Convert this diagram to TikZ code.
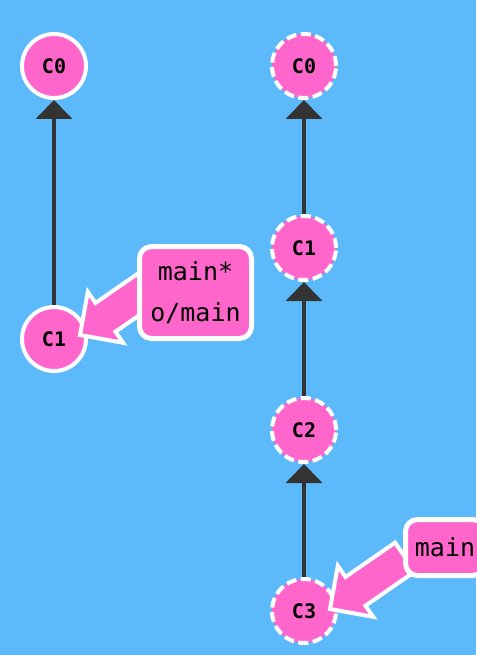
\documentclass[tikz,border=0pt]{standalone}
\usepackage{fontspec}
\setmonofont{DejaVu Sans Mono}
\usetikzlibrary{arrows.meta,calc}
\definecolor{bg}{RGB}{92,185,250}
\definecolor{pinkc}{RGB}{255,102,204}
\definecolor{edgec}{RGB}{51,51,51}
\tikzset{
 commit/.style={circle, fill=pinkc, draw=white, line width=4pt, minimum size=64pt, inner sep=0pt, font=\ttfamily\bfseries\fontsize{20}{20}\selectfont},
 ghost/.style={commit, dash pattern=on 10pt off 4.5pt},
 parentedge/.style={draw=edgec, line width=4pt, -{Triangle[length=19pt,width=36pt]}},
 branchlabel/.style={rectangle, rounded corners=12pt, fill=pinkc, draw=white, line width=5pt, inner sep=0pt, font=\ttfamily\fontsize{25}{41}\selectfont, align=center},
 pointer/.style={fill=pinkc, draw=white, line width=4pt, line join=miter}
}
\begin{document}
\begin{tikzpicture}[x=1pt,y=-1pt]
\fill[bg] (0,0) rectangle (476,655);
\useasboundingbox (0,0) rectangle (476,655);
% left history
\node[commit] (c0l) at (54,66) {C0};
\node[commit] (c1l) at (54,339) {C1};
\draw[parentedge] (c1l) -- (c0l);
% right history
\node[ghost] (c0r) at (304,66) {C0};
\node[ghost] (c1r) at (304,248) {C1};
\node[ghost] (c2r) at (304,430) {C2};
\node[ghost] (c3r) at (304,611) {C3};
\draw[parentedge] (c1r) -- (c0r);
\draw[parentedge] (c2r) -- (c1r);
\draw[parentedge] (c3r) -- (c2r);
% left pointer
\coordinate (lt) at ($(c1l)+(26,-4)$);
\coordinate (ltail) at ($(lt)+(75,-52)$);
\coordinate (lb) at ($(lt)!31pt!(ltail)$);
\draw[pointer] ($(ltail)!17.5pt!-90:(lb)$) -- ($(lb)!17.5pt!90:(ltail)$) -- ($(lb)!31pt!90:(ltail)$) -- (lt) -- ($(lb)!31pt!-90:(ltail)$) -- ($(lb)!17.5pt!-90:(ltail)$) -- ($(ltail)!17.5pt!90:(lb)$) -- cycle;
\node[branchlabel, minimum width=112pt, minimum height=92pt] (labl) at (195.5,292.5) {main*\\o/main};
% right pointer
\coordinate (rt) at ($(c3r)+(26,-2)$);
\coordinate (rtail) at ($(rt)+(75,-52)$);
\coordinate (rb) at ($(rt)!31pt!(rtail)$);
\draw[pointer] ($(rtail)!17.5pt!-90:(rb)$) -- ($(rb)!17.5pt!90:(rtail)$) -- ($(rb)!31pt!90:(rtail)$) -- (rt) -- ($(rb)!31pt!-90:(rtail)$) -- ($(rb)!17.5pt!-90:(rtail)$) -- ($(rtail)!17.5pt!90:(rb)$) -- cycle;
\node[branchlabel, minimum width=79pt, minimum height=56pt] (labr) at (445,547.5) {main};
\end{tikzpicture}
\end{document}
